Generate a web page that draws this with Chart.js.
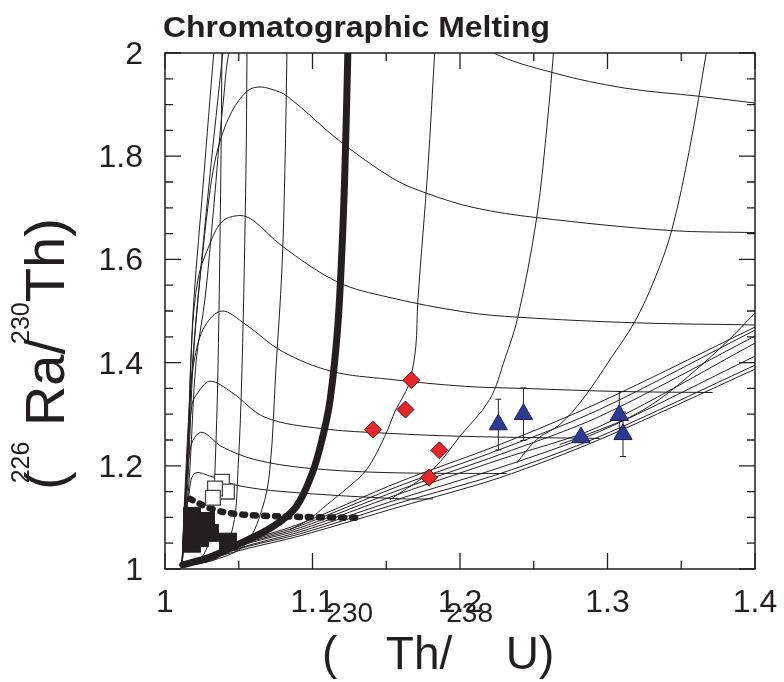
<!DOCTYPE html>
<html>
<head>
<meta charset="utf-8">
<title>Chromatographic Melting</title>
<script src="https://cdn.jsdelivr.net/npm/chart.js@4.4.1/dist/chart.umd.min.js"></script>
<style>
  html, body { margin: 0; padding: 0; background: #fff; }
  #wrap { width: 784px; height: 682px; }
</style>
</head>
<body>
<div id="wrap"><canvas id="chart" width="784" height="682"></canvas></div>
<script>
// ---- axis ticks ----
const xTicks = [1, 1.1, 1.2, 1.3, 1.4];
const xTickLabels = ['1', '1.1', '1.2', '1.3', '1.4'];
const yTicks = [1, 1.2, 1.4, 1.6, 1.8, 2];
const yTickLabels = ['1', '1.2', '1.4', '1.6', '1.8', '2'];

// ---- samples ----
const diamondX = [1.167, 1.163, 1.141, 1.186, 1.179];
const diamondY = [1.366, 1.309, 1.270, 1.230, 1.177];

const triangleX = [1.226, 1.243, 1.282, 1.308, 1.3105];
const triangleY = [1.280, 1.300, 1.255, 1.298, 1.261];
const triangleErr = [0.049, 0.051, null, 0.046, 0.043];

const openSqX = [1.0386, 1.0420, 1.0339, 1.0325];
const openSqY = [1.169, 1.150, 1.156, 1.138];

const solidSqX = [1.0183, 1.0183, 1.0278, 1.0305, 1.0183, 1.0427, 1.0237];
const solidSqY = [1.103, 1.076, 1.093, 1.070, 1.049, 1.053, 1.060];

// ---- melting path (thick) and dotted trend ----
const pathX = [1.012, 1.0305, 1.049, 1.073, 1.089, 1.100, 1.107, 1.112, 1.117, 1.120, 1.122, 1.124];
const pathY = [1.008, 1.023, 1.047, 1.082, 1.121, 1.187, 1.257, 1.329, 1.465, 1.621, 1.776, 2.004];

const dotX = [1.0169, 1.0224, 1.0291, 1.0386, 1.0542, 1.0915, 1.1341];
const dotY = [1.136, 1.128, 1.119, 1.111, 1.105, 1.101, 1.099];

// ---- model grid: humped curves ----
const hA = [[1.0115,1.006],[1.0135,1.10],[1.0150,1.20],[1.0175,1.40],[1.0196,1.523],[1.0260,1.75],[1.0332,2.004],[1.036,2.08]];
const hB = [[1.0115,1.006],[1.0140,1.10],[1.0160,1.20],[1.0190,1.40],[1.0224,1.523],[1.0300,1.75],[1.0393,2.004],[1.042,2.08]];
const h1 = [[1.0115,1.006],[1.0145,1.10],[1.017,1.20],[1.021,1.40],[1.0271,1.523],[1.033,1.70],[1.0393,1.90],[1.046,2.03],[1.07,2.17],[1.12,2.19],[1.18,2.09],[1.2202,2.004],[1.2642,1.961],[1.3117,1.932],[1.3625,1.916],[1.400,1.903]];
const h2 = [[1.0115,1.006],[1.0145,1.15],[1.0175,1.35],[1.0215,1.50],[1.0251,1.60],[1.0290,1.70],[1.0325,1.770],[1.0373,1.829],[1.0454,1.887],[1.0556,1.926],[1.063,1.934],[1.072,1.930],[1.083,1.916],[1.1186,1.829],[1.1545,1.757],[1.1775,1.728],[1.2100,1.700],[1.252,1.681],[1.342,1.656],[1.400,1.652]];
const h3 = [[1.0115,1.006],[1.0140,1.15],[1.0156,1.232],[1.0183,1.451],[1.0224,1.562],[1.0291,1.621],[1.0386,1.673],[1.0508,1.685],[1.060,1.675],[1.0793,1.626],[1.1172,1.556],[1.1511,1.527],[1.2033,1.498],[1.2392,1.488],[1.3198,1.477],[1.400,1.473]];
const h4 = [[1.0115,1.006],[1.0135,1.15],[1.0169,1.329],[1.0203,1.412],[1.0271,1.471],[1.0386,1.500],[1.0542,1.475],[1.0793,1.422],[1.1131,1.383],[1.1511,1.368],[1.2033,1.354],[1.2425,1.350],[1.3083,1.344],[1.3713,1.342]];
const h5 = [[1.0115,1.006],[1.0130,1.10],[1.0155,1.22],[1.0183,1.319],[1.0224,1.342],[1.0305,1.364],[1.0454,1.342],[1.0678,1.294],[1.1064,1.272],[1.1511,1.263],[1.2033,1.257],[1.2947,1.253]];
const h6 = [[1.0115,1.006],[1.0130,1.10],[1.0150,1.18],[1.0183,1.245],[1.0251,1.265],[1.0386,1.237],[1.0610,1.212],[1.0949,1.196],[1.1477,1.187],[1.2317,1.185]];
const h7 = [[1.0115,1.006],[1.0130,1.08],[1.0160,1.14],[1.0200,1.185],[1.0318,1.179],[1.0474,1.163],[1.0800,1.150],[1.1592,1.136],[1.1816,1.136]];

// ---- model grid: steep curves ----
const vA = [[1.1829,2.004],[1.1782,1.776],[1.1714,1.518],[1.1700,1.430],[1.1660,1.364],[1.1620,1.337],[1.1565,1.309],[1.1490,1.257],[1.1368,1.193],[1.1240,1.158],[1.1100,1.125],[1.0970,1.095],[1.0847,1.076]];
const vB = [[1.2635,2.004],[1.2595,1.874],[1.2520,1.681],[1.2392,1.488],[1.2304,1.407],[1.2202,1.329],[1.1999,1.257],[1.1816,1.193],[1.1524,1.134]];
const vC = [[1.3672,2.004],[1.3557,1.815],[1.3435,1.656],[1.3320,1.562],[1.3184,1.479],[1.3020,1.407],[1.2832,1.329],[1.2676,1.280],[1.2520,1.251],[1.2385,1.206]];
const vD = [[1.400,1.496],[1.3808,1.440],[1.3604,1.387],[1.3354,1.329],[1.3150,1.294],[1.2947,1.270],[1.2676,1.241]];
const vE = [[1.0827,2.004],[1.0813,1.776],[1.0793,1.582],[1.0752,1.387],[1.0711,1.193],[1.0657,1.115],[1.0542,1.047],[1.0339,1.018],[1.0115,1.006]];
const vF = [[1.0556,2.004],[1.0549,1.776],[1.0522,1.387],[1.0495,1.193],[1.0461,1.082],[1.0359,1.023],[1.0136,1.006]];
const vG = [[1.0386,2.004],[1.0379,1.776],[1.0359,1.387],[1.0339,1.193],[1.0318,1.082],[1.0251,1.023],[1.0136,1.006]];

// ---- lower fan of curves ----
const fanX = [1.0115, 1.0576, 1.0915, 1.1592, 1.2270, 1.2947, 1.400];
const fanY1 = [1.006, 1.0564, 1.0875, 1.1693, 1.2412, 1.3230, 1.4689];
const fanY2 = [1.006, 1.0545, 1.0837, 1.1615, 1.2315, 1.3093, 1.4630];
const fanY3 = [1.006, 1.0525, 1.0798, 1.1537, 1.2218, 1.2957, 1.4514];
const fanY4 = [1.006, 1.0506, 1.0759, 1.1459, 1.2121, 1.2763, 1.4377];
const fanY5 = [1.006, 1.0467, 1.0720, 1.1362, 1.1965, 1.2665, 1.4125];
const fanY6 = [1.006, 1.0447, 1.0681, 1.1284, 1.1848, 1.2568, 1.3949];
const fanY7 = [1.006, 1.0409, 1.0642, 1.1206, 1.1770, 1.2510, 1.3872];

const INK = '#231f20';
const FONT = '"Liberation Sans", Arial, Helvetica, sans-serif';

const pts = (xs, ys) => xs.map((x, i) => ({ x, y: ys[i] }));
const fromPairs = (arr) => arr.map(([x, y]) => ({ x, y }));

function thinLine(data, tension) {
  return {
    data, showLine: true, borderColor: INK, borderWidth: 1,
    pointRadius: 0, tension: tension, fill: false, order: 6
  };
}

const gridCurves = [hA, hB, h1, h2, h3, h4, h5, h6, h7, vA, vB, vC, vD, vE, vF, vG];
const fanCurves = [fanY1, fanY2, fanY3, fanY4, fanY5, fanY6, fanY7];

const datasets = [
  { data: pts(triangleX, triangleY), showLine: false, pointStyle: 'triangle', pointRadius: 10.5,
    backgroundColor: '#2b3a94', borderColor: '#1b1f55', borderWidth: 1, order: 0 },
  { data: pts(diamondX, diamondY), showLine: false, pointStyle: 'rectRot', pointRadius: 8.5,
    backgroundColor: '#e8262a', borderColor: '#4d1010', borderWidth: 1, order: 1 },
  { data: pts(openSqX, openSqY), showLine: false, pointStyle: 'rect', pointRadius: 10.5,
    backgroundColor: '#ffffff', borderColor: '#444444', borderWidth: 1.3, order: 2 },
  { data: pts(solidSqX, solidSqY), showLine: false, pointStyle: 'rect', pointRadius: 12,
    backgroundColor: INK, borderColor: INK, borderWidth: 1, order: 3 },
  { data: pts(dotX, dotY), showLine: true, pointRadius: 0, borderColor: INK, borderWidth: 6.5,
    borderDash: [3, 8], borderCapStyle: 'round', tension: 0.3, order: 4 },
  { data: pts(pathX, pathY), showLine: true, pointRadius: 0, borderColor: INK, borderWidth: 7,
    borderCapStyle: 'round', borderJoinStyle: 'round', tension: 0.35, order: 5 },
  ...gridCurves.map(c => thinLine(fromPairs(c), 0.35)),
  ...fanCurves.map(ys => thinLine(pts(fanX, ys), 0.3))
];

// error bars behind the triangles
const errorBars = {
  id: 'errorBars',
  beforeDatasetsDraw(chart) {
    const { ctx, scales: { x, y } } = chart;
    ctx.save();
    ctx.strokeStyle = INK;
    ctx.lineWidth = 1;
    triangleX.forEach((tx, i) => {
      const e = triangleErr[i];
      if (!e) return;
      const px = x.getPixelForValue(tx);
      const top = y.getPixelForValue(triangleY[i] + e);
      const bot = y.getPixelForValue(triangleY[i] - e);
      ctx.beginPath();
      ctx.moveTo(px, top); ctx.lineTo(px, bot);
      ctx.moveTo(px - 3, top); ctx.lineTo(px + 3, top);
      ctx.moveTo(px - 3, bot); ctx.lineTo(px + 3, bot);
      ctx.stroke();
    });
    ctx.restore();
  }
};

function drawRich(ctx, segs, mainPx, supPx, rise) {
  let cx = 0;
  segs.forEach(s => {
    ctx.font = (s.sup ? supPx : mainPx) + 'px ' + FONT;
    cx += s.dx || 0;
    ctx.fillText(s.t, cx, s.sup ? -rise : 0);
    cx += ctx.measureText(s.t).width;
  });
}

// frame with inward ticks on all four sides, tick labels and titles
const frame = {
  id: 'frame',
  afterDraw(chart) {
    const { ctx, chartArea: a, scales: { x, y } } = chart;
    ctx.save();
    ctx.strokeStyle = INK;
    ctx.lineWidth = 1.5;
    ctx.strokeRect(a.left, a.top, a.right - a.left, a.bottom - a.top);

    ctx.lineWidth = 1.3;
    ctx.beginPath();
    for (let i = 0; i <= 8; i++) {
      const px = x.getPixelForValue(1 + i * 0.05);
      const len = i % 2 === 0 ? 16 : 8;
      ctx.moveTo(px, a.bottom); ctx.lineTo(px, a.bottom - len);
      ctx.moveTo(px, a.top); ctx.lineTo(px, a.top + len);
    }
    for (let i = 0; i <= 20; i++) {
      const py = y.getPixelForValue(1 + i * 0.05);
      const len = i % 4 === 0 ? 16 : 8;
      ctx.moveTo(a.left, py); ctx.lineTo(a.left + len, py);
      ctx.moveTo(a.right, py); ctx.lineTo(a.right - len, py);
    }
    ctx.stroke();

    ctx.fillStyle = INK;
    ctx.font = '32px ' + FONT;
    ctx.textAlign = 'center';
    ctx.textBaseline = 'alphabetic';
    xTicks.forEach((v, i) => ctx.fillText(xTickLabels[i], x.getPixelForValue(v), 612));
    ctx.textAlign = 'right';
    yTicks.forEach((v, i) => ctx.fillText(yTickLabels[i], 143, y.getPixelForValue(v) + 11));

    // title, stretched to the reference width
    ctx.textAlign = 'left';
    ctx.font = 'bold 29px ' + FONT;
    const title = 'Chromatographic Melting';
    const tw = ctx.measureText(title).width;
    ctx.save();
    ctx.translate(163, 37);
    ctx.scale(387 / tw, 1);
    ctx.fillText(title, 0, 0);
    ctx.restore();

    // x axis title
    ctx.save();
    ctx.translate(322, 669);
    drawRich(ctx, [
      { t: '(' }, { t: '230', sup: true, dx: -11 }, { t: ' Th/' },
      { t: '238', sup: true, dx: -6 }, { t: ' U)' }
    ], 46, 28, 47);
    ctx.restore();

    // y axis title
    ctx.save();
    ctx.translate(64, 490);
    ctx.rotate(-Math.PI / 2);
    drawRich(ctx, [
      { t: '(' }, { t: '226', sup: true, dx: -12 }, { t: ' Ra/' },
      { t: '230', sup: true, dx: -5 }, { t: 'Th)' }
    ], 56, 25, 35);
    ctx.restore();

    ctx.restore();
  }
};

new Chart(document.getElementById('chart'), {
  type: 'scatter',
  data: { datasets },
  options: {
    responsive: false,
    animation: false,
    events: [],
    layout: { padding: { left: 165, top: 53, right: 29, bottom: 113 } },
    plugins: { legend: { display: false }, tooltip: { enabled: false } },
    scales: {
      x: { type: 'linear', min: 1, max: 1.4, display: false },
      y: { type: 'linear', min: 1, max: 2, display: false }
    }
  },
  plugins: [errorBars, frame]
});
</script>
</body>
</html>
